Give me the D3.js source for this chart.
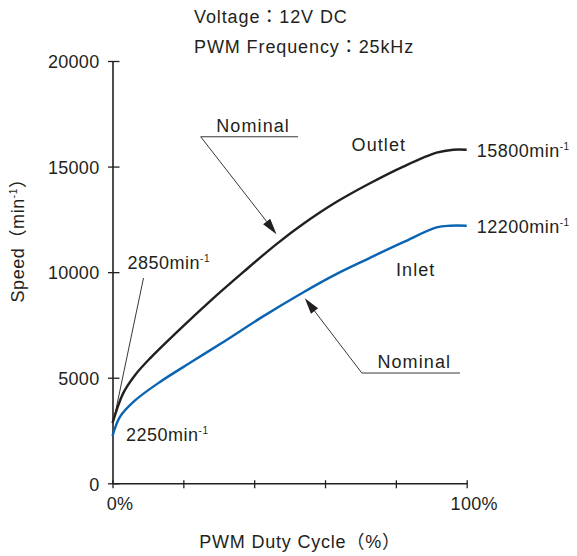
<!DOCTYPE html>
<html>
<head>
<meta charset="utf-8">
<script src="https://cdn.jsdelivr.net/npm/d3@7"></script>
<style>
  body { margin: 0; background: #fff; }
  svg text { font-family: "Liberation Sans", Arial, "Noto Sans CJK JP", sans-serif; fill: #231f20; }
</style>
</head>
<body>
<div id="chart"></div>
<script>
// Speed vs PWM duty cycle
const dutyOutlet = [0, 3, 6.4, 10.6, 18.1, 27.5, 36.9, 46.3, 53.9, 63.3, 72.7, 82.1, 91.5, 96.2, 100]
const speedOutlet = [2850, 4260, 5130, 5920, 7150, 8620, 10000, 11330, 12290, 13330, 14210, 15000, 15660, 15800, 15800]

const dutyInlet = [0, 2.1, 5.9, 13.4, 22.8, 32.2, 41.6, 53.9, 63.3, 72.7, 82.1, 91.5, 95.3, 100]
const speedInlet = [2250, 3150, 3860, 4800, 5800, 6790, 7810, 9050, 9920, 10680, 11420, 12120, 12200, 12200]

const xTicks = [0, 20, 40, 60, 80, 100]
const xTickLabels = {0: '0%', 100: '100%'}
const yTicks = [0, 5000, 10000, 15000, 20000]

const width = 577, height = 556
const ink = '#231f20'
const blue = '#0a64b2'
const labelSize = '18px'

const svg = d3.select('#chart').append('svg')
    .attr('width', width)
    .attr('height', height)

const xScale = d3.scaleLinear().domain([0, 100]).range([112.5, 466.7])
const yScale = d3.scaleLinear().domain([0, 20000]).range([483.3, 61])

// Header
svg.append('text').attr('x', 194).attr('y', 23)
    .style('font-size', labelSize).style('letter-spacing', '0.9px')
    .text('Voltage：12V DC')
svg.append('text').attr('x', 194).attr('y', 53)
    .style('font-size', labelSize).style('letter-spacing', '0.9px')
    .text('PWM Frequency：25kHz')

// Axes
const yAxis = d3.axisLeft(yScale)
    .tickValues(yTicks)
    .tickSizeInner(-7)
    .tickSizeOuter(0)
    .tickPadding(13)
    .tickFormat(d3.format('d'))

const yAxisG = svg.append('g')
    .attr('transform', 'translate(' + xScale(0) + ',0)')
    .call(yAxis)
yAxisG.select('.domain').attr('stroke', ink).attr('stroke-width', 1.6)
yAxisG.selectAll('.tick line').attr('x1', -4.5).attr('stroke', ink).attr('stroke-width', 1.3)
yAxisG.selectAll('.tick text')
    .style('font-size', labelSize).style('letter-spacing', '0.3px')
    .attr('fill', ink)
    .attr('dy', '0.38em')

const xAxis = d3.axisBottom(xScale)
    .tickValues(xTicks)
    .tickSizeInner(5)
    .tickSizeOuter(0)
    .tickPadding(6)
    .tickFormat(d => xTickLabels[d] || '')

const xAxisG = svg.append('g')
    .attr('transform', 'translate(0,' + yScale(0) + ')')
    .call(xAxis)
xAxisG.select('.domain').attr('stroke', ink).attr('stroke-width', 1.6)
xAxisG.selectAll('.tick line').attr('y1', -3).attr('stroke', ink).attr('stroke-width', 1.3)
xAxisG.selectAll('.tick text')
    .style('font-size', labelSize).style('letter-spacing', '0.3px')
    .attr('fill', ink)
    .attr('dx', 7)
    .attr('dy', '0.85em')

// Axis titles
svg.append('text')
    .attr('x', 300).attr('y', 548)
    .attr('text-anchor', 'middle')
    .style('font-size', labelSize).style('letter-spacing', '0.8px')
    .text('PWM Duty Cycle（%）')

const yTitle = svg.append('text')
    .attr('transform', 'translate(24,236) rotate(-90)')
    .attr('text-anchor', 'middle')
    .style('font-size', labelSize).style('letter-spacing', '0.6px')
yTitle.append('tspan').text('Speed（min')
yTitle.append('tspan').attr('dy', -7).style('font-size', '10px').text('-1')
yTitle.append('tspan').attr('dy', 7).text('）')

// Curves
const line = d3.line()
    .x(d => xScale(d[0]))
    .y(d => yScale(d[1]))
    .curve(d3.curveCatmullRom.alpha(0.5))

const series = [
    {duty: dutyOutlet, speed: speedOutlet, color: ink},
    {duty: dutyInlet, speed: speedInlet, color: blue}
]

svg.selectAll('.line')
    .data(series)
    .enter()
    .append('path')
    .classed('line', true)
    .attr('d', s => line(s.duty.map((d, i) => [d, s.speed[i]])))
    .attr('fill', 'none')
    .attr('stroke', s => s.color)
    .attr('stroke-width', 2.4)
    .attr('stroke-linejoin', 'round')

// Annotations (positions in data units)
function arrow(fromPx, toPx){
    const g = svg.append('g')
    const dx = toPx[0] - fromPx[0], dy = toPx[1] - fromPx[1]
    const len = Math.sqrt(dx*dx + dy*dy)
    const ux = dx/len, uy = dy/len
    const headLen = 16, headW = 4.5
    const bx = toPx[0] - ux*headLen, by = toPx[1] - uy*headLen
    g.append('line')
        .attr('x1', fromPx[0]).attr('y1', fromPx[1])
        .attr('x2', bx).attr('y2', by)
        .attr('stroke', ink).attr('stroke-width', 0.9)
    g.append('path')
        .attr('d', 'M' + toPx[0] + ',' + toPx[1] +
            'L' + (bx - uy*headW) + ',' + (by + ux*headW) +
            'L' + (bx + uy*headW) + ',' + (by - ux*headW) + 'Z')
        .attr('fill', ink)
}

function nominal(labelDuty, labelSpeed, lineFrom, lineTo, tip){
    svg.append('text')
        .attr('x', xScale(labelDuty)).attr('y', yScale(labelSpeed))
        .attr('text-anchor', 'middle')
        .style('font-size', labelSize).style('letter-spacing', '1.1px')
        .text('Nominal')
    const ly = yScale(labelSpeed) + 4.7
    svg.append('line')
        .attr('x1', xScale(lineFrom)).attr('x2', xScale(lineTo))
        .attr('y1', ly).attr('y2', ly)
        .attr('stroke', ink).attr('stroke-width', 0.9)
    arrow([xScale(lineFrom), ly], [xScale(tip[0]), yScale(tip[1])])
}

nominal(39.7, 16635, 24.9, 52.4, [46.3, 11800])
nominal(85.2, 5445, 70.4, 98.1, [54.3, 8760])

svg.append('text')
    .attr('x', xScale(75.2)).attr('y', yScale(15734))
    .attr('text-anchor', 'middle')
    .style('font-size', labelSize).style('letter-spacing', '1.1px')
    .text('Outlet')
svg.append('text')
    .attr('x', xScale(85.6)).attr('y', yScale(9816))
    .attr('text-anchor', 'middle')
    .style('font-size', labelSize).style('letter-spacing', '1.1px')
    .text('Inlet')

// Speed value labels
function speedLabel(px, py, value){
    const t = svg.append('text')
        .attr('x', px).attr('y', py)
        .style('font-size', labelSize).style('letter-spacing', '0.5px')
    t.append('tspan').text(value + 'min')
    t.append('tspan').attr('dy', -7).style('font-size', '10px').text('-1')
}

const lastOut = speedOutlet[speedOutlet.length - 1]
const lastIn = speedInlet[speedInlet.length - 1]
speedLabel(xScale(100) + 10, yScale(lastOut) + 7, lastOut)
speedLabel(xScale(100) + 10, yScale(lastIn) + 7.7, lastIn)
speedLabel(xScale(0) + 15, 269.3, speedOutlet[0])
speedLabel(xScale(0) + 13.5, yScale(speedInlet[0]) + 5, speedInlet[0])

// leader from 2850 label to curve start
svg.append('line')
    .attr('x1', xScale(0) + 31).attr('y1', 278)
    .attr('x2', xScale(0) + 0.8).attr('y2', yScale(speedOutlet[0]) - 1)
    .attr('stroke', ink).attr('stroke-width', 0.9)
</script>
</body>
</html>
